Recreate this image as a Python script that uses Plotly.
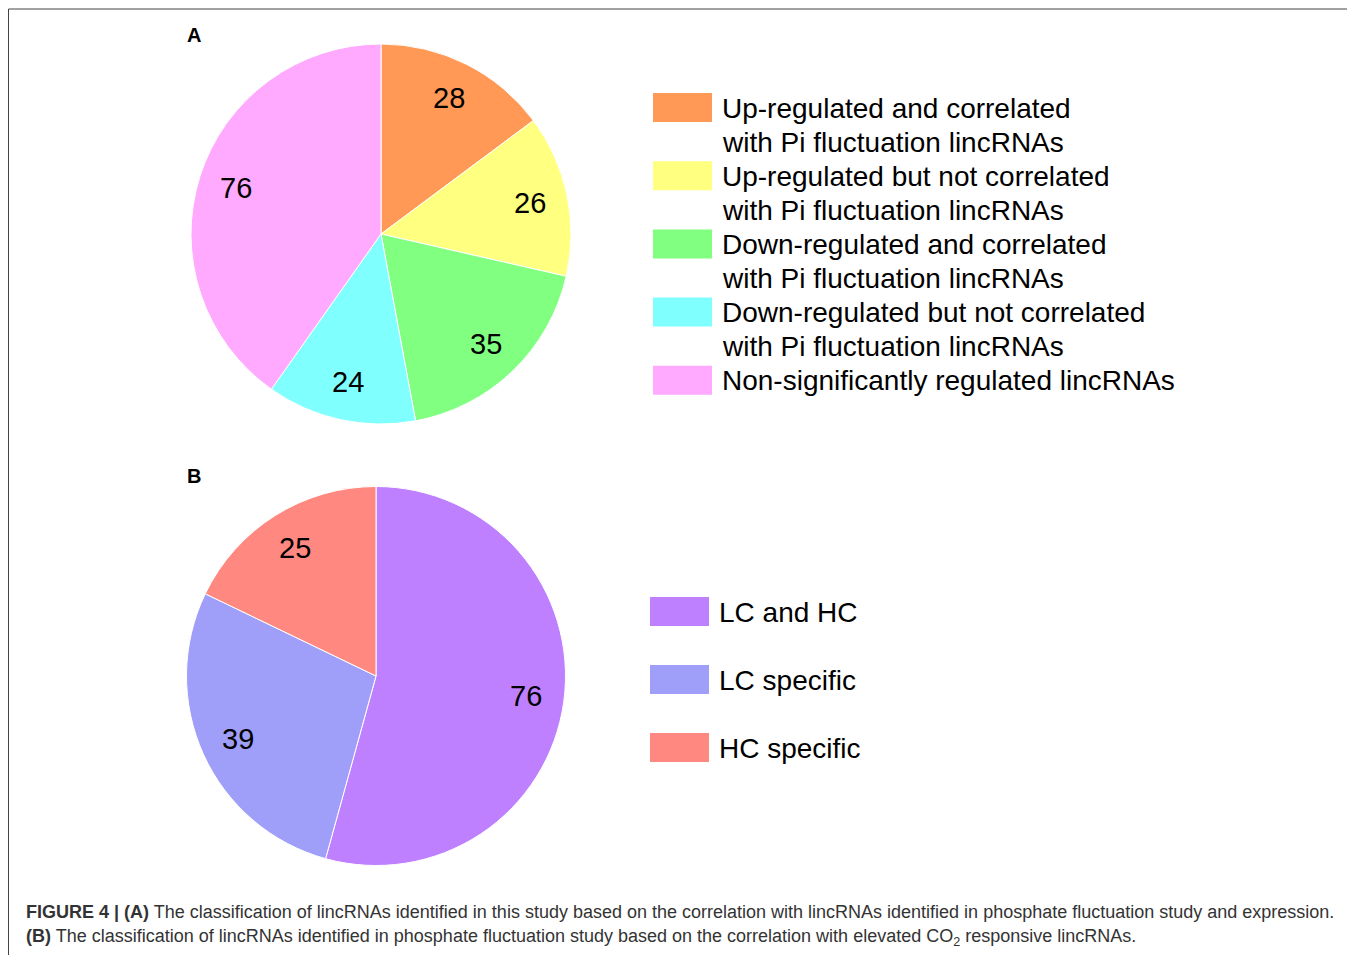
import math
import plotly.graph_objects as go

# page geometry (the HTML body has an 8px margin)
PAGE_W, PAGE_H = 1355, 955
OFF = 8
W, H = PAGE_W - OFF, PAGE_H - OFF

# ---- data ----
labels_a = [
    ["Up-regulated and correlated", "with Pi fluctuation lincRNAs"],
    ["Up-regulated but not correlated", "with Pi fluctuation lincRNAs"],
    ["Down-regulated and correlated", "with Pi fluctuation lincRNAs"],
    ["Down-regulated but not correlated", "with Pi fluctuation lincRNAs"],
    ["Non-significantly regulated lincRNAs"],
]
values_a = [28, 26, 35, 24, 76]
colors_a = ["#FF9955", "#FFFF80", "#80FF80", "#80FFFF", "#FFAAFF"]

labels_b = ["LC and HC", "LC specific", "HC specific"]
values_b = [76, 39, 25]
colors_b = ["#BF80FF", "#9F9FFA", "#FF8880"]

caption_1 = ("<b>FIGURE 4 | (A)</b> The classification of lincRNAs identified in this study based on the "
             "correlation with lincRNAs identified in phosphate fluctuation study and expression.")
caption_2 = ("<b>(B)</b> The classification of lincRNAs identified in phosphate fluctuation study based on "
             "the correlation with elevated CO<sub>2</sub> responsive lincRNAs.")

FONT = "Liberation Sans, Arial, sans-serif"
CAP_FONT = "Liberation Sans, Arial, sans-serif"


def px_x(x):
    return (x - OFF) / W


def px_y(y):
    return 1 - (y - OFF) / H


# pie geometry in page pixels: (cx, cy, r)
PIE_A = (381, 234, 190)
PIE_B = (376, 676, 189.5)

fig = go.Figure()
annotations = []
shapes = []


def add_pie(labels, values, colors, geom):
    cx, cy, r = geom
    fig.add_trace(go.Pie(
        labels=labels, values=values,
        marker=dict(colors=colors, line=dict(color="white", width=1)),
        sort=False, direction="clockwise", rotation=0,
        textinfo="none",
        domain=dict(x=[px_x(cx - r), px_x(cx + r)], y=[px_y(cy + r), px_y(cy - r)]),
        showlegend=False, hoverinfo="label+value",
    ))
    total = sum(values)
    cum = 0
    for v in values:
        mid = (cum + v / 2) / total * 2 * math.pi
        cum += v
        lx = cx + 0.8 * r * math.sin(mid)
        ly = cy - 0.8 * r * math.cos(mid)
        annotations.append(dict(xref="paper", yref="paper", x=px_x(lx), y=px_y(ly),
                                xanchor="center", yanchor="middle", showarrow=False,
                                text=str(v), font=dict(size=29, color="black", family=FONT)))


add_pie([" ".join(l) for l in labels_a], values_a, colors_a, PIE_A)
add_pie(labels_b, values_b, colors_b, PIE_B)

# frame lines
shapes.append(dict(type="line", xref="paper", yref="paper", x0=px_x(8.5), x1=1.0,
                   y0=px_y(9), y1=px_y(9), line=dict(color="#444444", width=1)))
shapes.append(dict(type="line", xref="paper", yref="paper", x0=px_x(8.5), x1=px_x(8.5),
                   y0=px_y(9), y1=0, line=dict(color="#444444", width=1)))

# legend A
for i, (lab, col) in enumerate(zip(labels_a, colors_a)):
    top = 93 + i * 68.2
    shapes.append(dict(type="rect", xref="paper", yref="paper",
                       x0=px_x(653), x1=px_x(712), y0=px_y(top + 29), y1=px_y(top),
                       fillcolor=col, line=dict(width=0)))
    for j, line in enumerate(lab):
        annotations.append(dict(xref="paper", yref="paper", x=px_x(720), y=px_y(top + 15 + 34 * j),
                                xanchor="left", yanchor="middle", align="left", showarrow=False,
                                text=line, font=dict(size=28, color="black", family=FONT)))

# legend B
for i, (lab, col) in enumerate(zip(labels_b, colors_b)):
    top = 597 + i * 68
    shapes.append(dict(type="rect", xref="paper", yref="paper",
                       x0=px_x(650), x1=px_x(709), y0=px_y(top + 29), y1=px_y(top),
                       fillcolor=col, line=dict(width=0)))
    annotations.append(dict(xref="paper", yref="paper", x=px_x(717), y=px_y(top + 15),
                            xanchor="left", yanchor="middle", align="left", showarrow=False,
                            text=lab, font=dict(size=28, color="black", family=FONT)))

# panel letters
annotations.append(dict(xref="paper", yref="paper", x=px_x(194), y=px_y(35), text="<b>A</b>",
                        xanchor="center", yanchor="middle",
                        showarrow=False, font=dict(size=20, color="black", family=FONT)))
annotations.append(dict(xref="paper", yref="paper", x=px_x(194), y=px_y(476), text="<b>B</b>",
                        xanchor="center", yanchor="middle",
                        showarrow=False, font=dict(size=20, color="black", family=FONT)))

# caption
annotations.append(dict(xref="paper", yref="paper", x=px_x(24), y=px_y(912), text=caption_1,
                        xanchor="left", yanchor="middle", showarrow=False,
                        font=dict(size=18, color="#333333", family=CAP_FONT)))
annotations.append(dict(xref="paper", yref="paper", x=px_x(24), y=px_y(937), text=caption_2,
                        xanchor="left", yanchor="middle", showarrow=False,
                        font=dict(size=18, color="#333333", family=CAP_FONT)))

fig.update_layout(
    width=W, height=H, margin=dict(l=0, r=0, t=0, b=0),
    paper_bgcolor="white", plot_bgcolor="white",
    shapes=shapes, annotations=annotations,
)

fig.write_html("out.html")
